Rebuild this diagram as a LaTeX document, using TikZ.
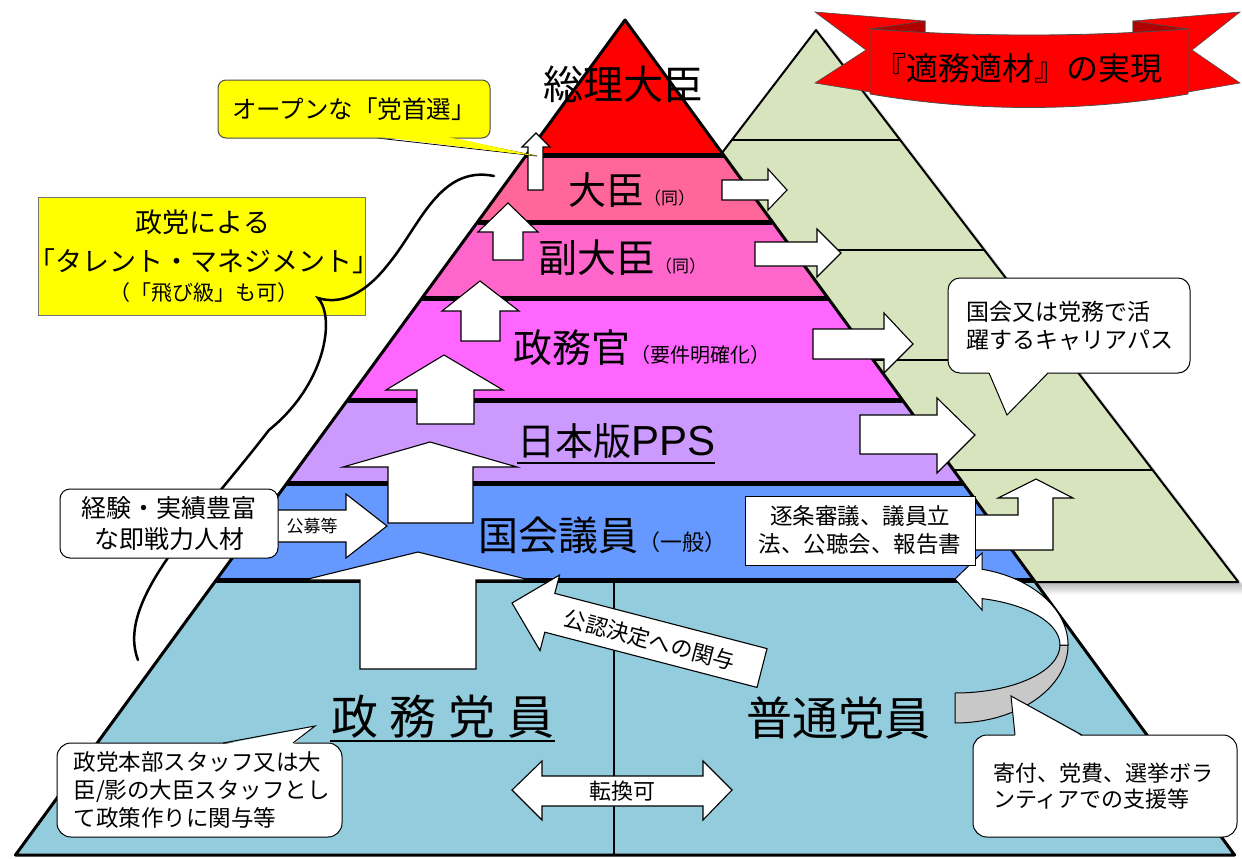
\documentclass[tikz,border=0pt]{standalone}
\usepackage{fontspec}
\setmainfont{Noto Sans CJK JP}
\newfontfamily\latinsans{Liberation Sans}
\usetikzlibrary{calc}
\definecolor{cRed}{HTML}{FF0000}
\definecolor{cDaijin}{HTML}{FF6699}
\definecolor{cFuku}{HTML}{FF66CC}
\definecolor{cSeimu}{HTML}{FF66FF}
\definecolor{cPPS}{HTML}{CC99FF}
\definecolor{cKokkai}{HTML}{6699FF}
\definecolor{cBase}{HTML}{93CDDD}
\definecolor{cGreen}{HTML}{D7E4BD}
\definecolor{cYellow}{HTML}{FFFF00}
\definecolor{cDark}{HTML}{B00000}
\definecolor{cGrayband}{HTML}{C8C8C8}
\begin{document}
\begin{tikzpicture}[x=1pt,y=-1pt,
  blk/.style={fill=white,draw=black,line width=1.1pt,line join=miter},
  sepline/.style={line width=5pt},
  outl/.style={line width=3pt,line join=round},
  glines/.style={line width=2pt},
  callbox/.style={draw=black,fill=white,line width=1pt,rounded corners=12pt,inner sep=0pt},
  txt/.style={inner sep=0pt,text=black},
]
\useasboundingbox (0,0) rectangle (1242,859);

% ---------- green pyramid (behind) ----------
\foreach \s in {2,4,...,12}{
  \fill[black,opacity=0.05] (816+\s,30+\s) -- (1238.3+\s,582+\s) -- (393.7+\s,582+\s) -- cycle;
}
\filldraw[fill=cGreen,draw=black,line width=2pt,line join=round] (816,30) -- (1238.3,582) -- (393.7,582) -- cycle;
\draw[glines] (731.85,140) -- (900.15,140);
\draw[glines] (647.7,250) -- (984.3,250);
\draw[glines] (563.55,360) -- (1068.45,360);
\draw[glines] (479.4,470) -- (1152.6,470);

% ---------- main pyramid ----------
\fill[cBase] (216.2,580) -- (1033.8,580) -- (1234.55,855) -- (15.45,855) -- cycle;
\fill[cKokkai] (287.01,483) -- (962.99,483) -- (1033.8,580) -- (216.2,580) -- cycle;
\fill[cPPS] (347.6,400) -- (902.4,400) -- (962.99,483) -- (287.01,483) -- cycle;
\fill[cSeimu] (422.06,298) -- (827.94,298) -- (902.4,400) -- (347.6,400) -- cycle;
\fill[cFuku] (477.54,222) -- (772.46,222) -- (827.94,298) -- (422.06,298) -- cycle;
\fill[cDaijin] (526.45,155) -- (723.55,155) -- (772.46,222) -- (477.54,222) -- cycle;
\fill[cRed] (625,20) -- (723.55,155) -- (526.45,155) -- cycle;
\draw[sepline] (526.45,155) -- (723.55,155);
\draw[sepline] (477.54,222) -- (772.46,222);
\draw[sepline] (422.06,298) -- (827.94,298);
\draw[sepline] (347.6,400) -- (902.4,400);
\draw[sepline] (287.01,483) -- (962.99,483);
\draw[sepline] (216.2,580) -- (1033.8,580);
\draw[outl] (625,20) -- (1234.55,855) -- (15.45,855) -- cycle;
\draw[line width=2.5pt] (614,580) -- (614,855);

% ---------- up arrows ----------
\draw[blk] (528,190) -- (528,147) -- (522,147) -- (536,133) -- (550,147) -- (543,147) -- (543,190) -- cycle;
\draw[blk] (493,260) -- (493,232) -- (478,232) -- (508,203) -- (538,232) -- (523,232) -- (523,260) -- cycle;
\draw[blk] (461,341) -- (461,311) -- (442,311) -- (480,281) -- (519,311) -- (500,311) -- (500,341) -- cycle;
\draw[blk] (417,424) -- (417,390) -- (386,390) -- (444,355) -- (503,390) -- (474,390) -- (474,424) -- cycle;
\draw[blk] (388,523) -- (388,467) -- (343,467) -- (430,442) -- (517,467) -- (473,467) -- (473,523) -- cycle;
\draw[blk] (360,669) -- (360,580) -- (304,580) -- (418,552) -- (530,580) -- (476,580) -- (476,669) -- cycle;

% ---------- right arrows ----------
\draw[blk] (722,180) -- (768,180) -- (768,169) -- (787,190) -- (768,210) -- (768,200) -- (722,200) -- cycle;
\draw[blk] (755,242) -- (817,242) -- (817,229) -- (841,253) -- (817,277) -- (817,266) -- (755,266) -- cycle;
\draw[blk] (813,329) -- (884,329) -- (884,313) -- (913,344) -- (884,373) -- (884,359) -- (813,359) -- cycle;
\draw[blk] (860,415) -- (937,415) -- (937,398) -- (975,435) -- (937,473) -- (937,454) -- (860,454) -- cycle;
% bent arrow
\draw[blk] (975,515) -- (1018,515) -- (1018,498) -- (998,498) -- (1036,479) -- (1073,498) -- (1053,498) -- (1053,550) -- (975,550) -- cycle;
% koubo arrow
\draw[blk] (277,510) -- (346,510) -- (346,494) -- (387,526) -- (346,558) -- (346,542) -- (277,542) -- cycle;
% tenkan double arrow
\draw[blk] (512,790) -- (542,761) -- (542,776) -- (703,776) -- (703,761) -- (732,790) -- (703,820) -- (703,806) -- (542,806) -- (542,820) -- cycle;
% kounin arrow (rotated)
\draw[blk] (767,648.6) -- (554.8,593.4) -- (559.6,575) -- (512,603) -- (540,650.6) -- (544.8,632.2) -- (757,687.4) -- cycle;
% curved arrow
\filldraw[fill=cGrayband,draw=black,line width=1pt] (1068,645) arc[start angle=0,end angle=90,x radius=113,y radius=78] -- (955,693) arc[start angle=90,end angle=0,x radius=105,y radius=48] -- cycle;
\filldraw[fill=white,draw=black,line width=1pt,line join=miter] (982,569.25) arc[start angle=-76.2,end angle=0,x radius=113,y radius=78] -- (1060,645) arc[start angle=0,end angle=-75.1,x radius=105,y radius=48] -- (982,610) -- (955,579) -- (982,553) -- cycle;

% ---------- pyramid texts ----------
\node[txt,font=\fontsize{40}{48}\selectfont] (sori) at (623,84) {総理大臣};
\node[txt,anchor=west] (daijin) at (568,190) {\fontsize{38}{44}\selectfont 大臣\fontsize{17}{20}\selectfont（同）};
\node[txt,anchor=west] (fuku) at (538,258) {\fontsize{39}{44}\selectfont 副大臣\fontsize{17}{20}\selectfont（同）};
\node[txt,anchor=west] (seimu) at (513,348) {\fontsize{39}{44}\selectfont 政務官\fontsize{20}{24}\selectfont（要件明確化）};
\node[txt,anchor=west] (pps) at (517,441) {\fontsize{38}{44}\selectfont 日本版{\latinsans\fontsize{42}{44}\selectfont PPS}};
\draw[line width=2pt] ($(pps.south west)+(0,4)$) -- ($(pps.south east)+(0,4)$);
\node[txt,anchor=west] (kokkai) at (478,535) {\fontsize{40}{44}\selectfont 国会議員\fontsize{22}{24}\selectfont（一般）};
\node[txt,font=\fontsize{47}{52}\selectfont] (seimutoin) at (443,717) {政\hspace{12pt}務\hspace{12pt}党\hspace{12pt}員};
\draw[line width=2pt] (330,741) -- (555,741);
\node[txt,font=\fontsize{46}{52}\selectfont] (futsu) at (838,718) {普通党員};
\node[txt,font=\fontsize{17}{20}\selectfont] (koubo) at (312,526) {公募等};
\node[txt,font=\fontsize{22}{24}\selectfont] (tenkan) at (622,791) {転換可};
\node[txt,font=\fontsize{22}{24}\selectfont,rotate=-14.6] (kounin) at (650,640) {公認決定への関与};

% ---------- yellow boxes and brace ----------
\fill[cYellow] (377,136) -- (537,156) -- (445,136) -- cycle;
\draw[line width=0.8pt] (377,138) -- (537,156) -- (445,138);
\node[draw=black!70,fill=cYellow,line width=1pt,rounded corners=8pt,minimum width=272pt,minimum height=58pt,inner sep=0pt,font=\fontsize{24.5}{28}\selectfont] (open) at (354,109) {オープンな「党首選」};
\fill[cYellow] (377,136.5) -- (537,156) -- (445,136.5) -- cycle;
\node[draw=black!55,fill=cYellow,line width=1pt,minimum width=327pt,minimum height=118pt,inner sep=0pt] (tm) at (201.5,256) {};
\node[txt,font=\fontsize{27}{30}\selectfont] (tm1) at (203,222) {政党による};
\node[txt,font=\fontsize{27}{30}\selectfont] (tm2) at (203.5,261) {「タレント・マネジメント」};
\node[txt,font=\fontsize{21}{24}\selectfont] (tm3) at (203.5,293) {（「飛び級」も可）};
\draw[line width=2.5pt,line cap=round] (494,176) .. controls (440,165) and (420,225) .. (390,262) .. controls (365,295) and (340,305) .. (318,298) .. controls (336,318) and (325,385) .. (269,430) .. controls (200,520) and (115,600) .. (138,660);

% ---------- white callouts ----------
\node[callbox,rounded corners=10pt,minimum width=218pt,minimum height=69pt,align=center,font=\fontsize{25}{31}\selectfont] (kei) at (169,523.5) {経験・実績豊富\\な即戦力人材};
\node[draw=black,fill=white,line width=1pt,minimum width=230pt,minimum height=69pt,inner sep=0pt,align=center,font=\fontsize{22.5}{28}\selectfont] (chikujo) at (860,530.5) {逐条審議、議員立\\法、公聴会、報告書};

\node[callbox,minimum width=242pt,minimum height=95pt,text width=205pt,align=left,font=\fontsize{23}{28}\selectfont] (career) at (1069,325.5) {国会又は党務で活\\躍するキャリアパス};
\fill[white] (989,372) -- (1007,415) -- (1048,372) -- cycle;
\draw[line width=1pt] (989,373) -- (1007,415) -- (1048,373);

\node[callbox,rounded corners=14pt,minimum width=285pt,minimum height=94pt,text width=252pt,align=left,font=\fontsize{22.5}{28}\selectfont] (hq) at (199.5,790) {政党本部スタッフ又は大\\臣/影の大臣スタッフとし\\て政策作りに関与等};
\fill[white] (223,744.5) -- (315,726) -- (293,744.5) -- cycle;
\draw[line width=1pt] (223,743) -- (315,726) -- (293,743);

\node[callbox,rounded corners=14pt,minimum width=264pt,minimum height=102pt,text width=224pt,align=left,font=\fontsize{22}{26}\selectfont] (kifu) at (1105,786) {寄付、党費、選挙ボラ\\ンティアでの支援等};
\fill[white] (1015,736.5) -- (1011,696) -- (1082,736.5) -- cycle;
\draw[line width=1pt] (1015,735) -- (1011,696) -- (1082,735);

% ---------- banner ----------
\filldraw[fill=cRed,draw=black!70,line width=0.6pt,line join=miter] (815,12) -- (925,21) -- (925,85) -- (870,92) -- (815,83) -- (866,50) -- cycle;
\filldraw[fill=cRed,draw=black!70,line width=0.6pt,line join=miter] (1240,12) -- (1133,21) -- (1133,85) -- (1188,92) -- (1240,83) -- (1192,50) -- cycle;
\filldraw[fill=cDark,draw=black!70,line width=0.6pt] (870,29) -- (925,21) -- (925,33) -- cycle;
\filldraw[fill=cDark,draw=black!70,line width=0.6pt] (1188,29) -- (1133,21) -- (1133,33) -- cycle;
\filldraw[fill=cRed,draw=black!70,line width=0.8pt] (870,29) .. controls (975,37) and (1083,37) .. (1188,29) -- (1188,94) .. controls (1083,112) and (975,112) .. (870,94) -- cycle;
\node[txt,font=\fontsize{32}{36}\selectfont] (banner) at (1018,68) {『適務適材』の実現};
\end{tikzpicture}
\end{document}
